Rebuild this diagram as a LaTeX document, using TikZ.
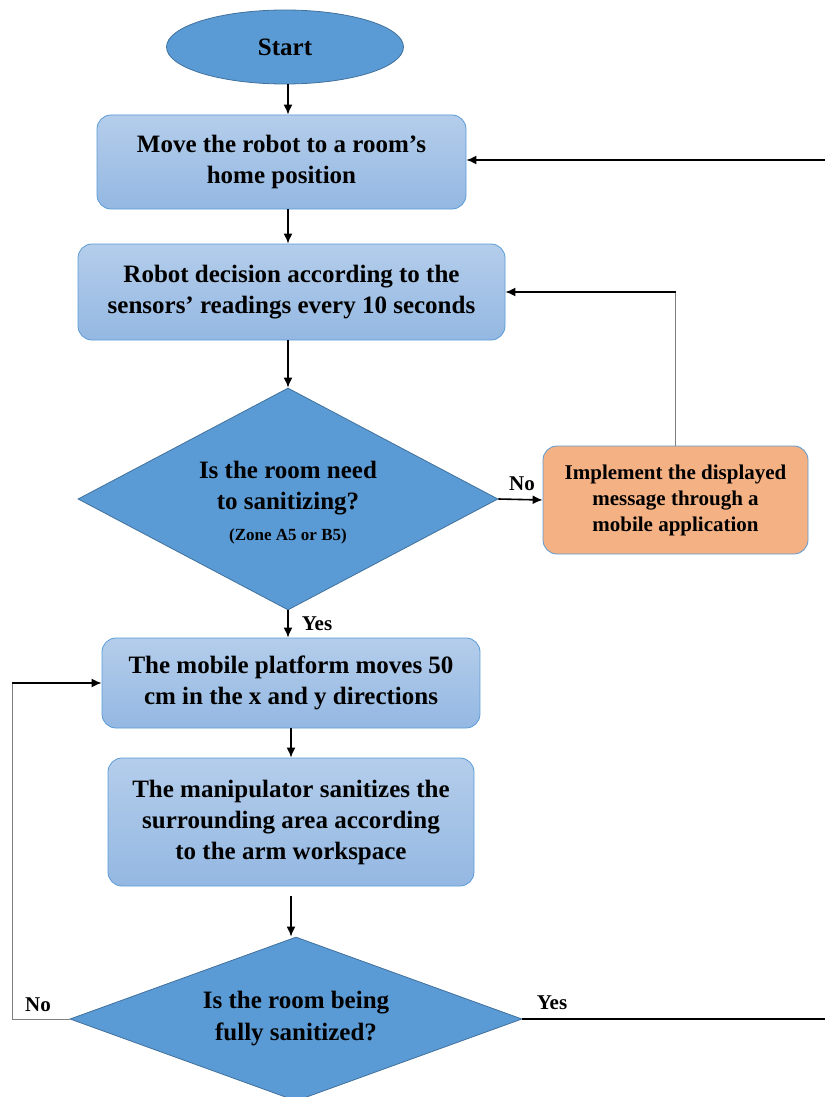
\documentclass[tikz,border=0pt]{standalone}
\usepackage{fontspec}
\setmainfont{Liberation Serif}
\usetikzlibrary{arrows.meta,shapes.geometric}
\definecolor{flowblue}{HTML}{5B9BD5}
\definecolor{flowedge}{HTML}{41719C}
\definecolor{boxtop}{HTML}{B4CDEB}
\definecolor{boxbot}{HTML}{94B8E2}
\definecolor{flowpeach}{HTML}{F4B183}

\begin{document}
\begin{tikzpicture}[x=0.5pt,y=-0.5pt,
  txt/.style={font=\bfseries\fontsize{12.5}{15.5}\selectfont,align=center},
  proc/.style={txt,draw=flowblue,rounded corners=7pt,top color=boxtop,bottom color=boxbot,inner sep=0pt},
  dec/.style={diamond,draw=flowedge,fill=flowblue,inner sep=0pt},
  lab/.style={font=\bfseries\fontsize{10.5}{12}\selectfont},
  arr/.style={-{Latex[length=5pt,width=4.5pt]},thick}]
\useasboundingbox (0,0) rectangle (825,1097);
\node[txt,ellipse,draw=flowedge,fill=flowblue,minimum width=118.5pt,minimum height=37pt] (start) at (285,47) {Start};
\node[proc,minimum width=184.5pt,minimum height=47pt] (move) at (281.5,162) {Move the robot to a room’s\\home position};
\node[proc,minimum width=213.5pt,minimum height=48pt] (sense) at (291.5,292) {Robot decision according to the\\sensors’ readings every 10 seconds};
\node[dec,minimum width=210pt,minimum height=111pt] (zone) at (288,499) {};
\node[txt] (zonetext) at (288,503) {Is the room need\\to sanitizing?\\{\fontsize{8.5}{10}\selectfont (Zone A5 or B5)}};
\node[draw=flowblue,fill=flowpeach,rounded corners=7pt,align=center,inner sep=0pt,
  minimum width=132.5pt,minimum height=54pt,font=\bfseries\fontsize{10.5}{13}\selectfont] (app) at (675.5,500)
  {Implement the displayed\\message through a\\mobile application};
\node[proc,minimum width=189pt,minimum height=45pt] (platform) at (291,683) {The mobile platform moves 50\\cm in the x and y directions};
\node[proc,minimum width=183pt,minimum height=64pt] (arm) at (291,822) {The manipulator sanitizes the\\surrounding area according\\to the arm workspace};
\node[dec,minimum width=226pt,minimum height=82pt] (done) at (296,1019) {};
\node[txt,font=\bfseries\fontsize{12.5}{16}\selectfont] (donetext) at (296,1019) {Is the room being\\fully sanitized?};
% labels
\node[lab] (noa) at (522,484) {No};
\node[lab] (yesa) at (317,624) {Yes};
\node[lab] (nob) at (38,1005) {No};
\node[lab] (yesb) at (552,1003) {Yes};
% ends
\coordinate (in) at (825,160);
\coordinate (back) at (12,1019);
\coordinate (out) at (825,1019);
% connectors
\draw[arr] (zone.north |- start.south) -- (zone.north |- move.north);
\draw[arr] (zone.north |- move.south) -- (zone.north |- sense.north);
\draw[arr] (in) -- (in -| move.east);
\draw[arr] (zone.north |- sense.south) -- (zone.north);
\draw[arr] (zone.east) -- (app.west);
\draw[gray] (app.north) -- (app.north |- sense.east);
\draw[arr] (app.north |- sense.east) -- (sense.east);
\draw[arr] (zone.south) -- (zone.south |- platform.north);
\draw[arr] (platform) -- (platform |- arm.north);
\draw[arr,shorten <=5pt] (arm.south) -- (arm.south |- done.north);
\draw[gray] (done.west) -- (back) -- (back |- platform.west);
\draw[arr] (back |- platform.west) -- (platform.west);
\draw[thick] (done.east) -- (out);
\end{tikzpicture}
\end{document}
